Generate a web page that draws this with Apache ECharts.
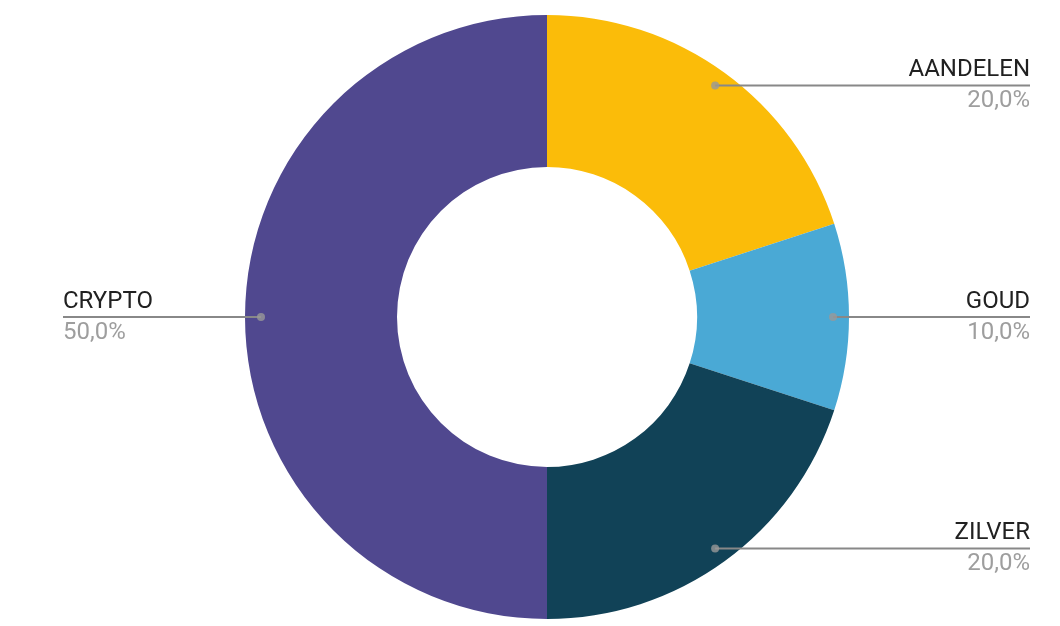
<!DOCTYPE html>
<html>
<head>
<meta charset="utf-8">
<script src="https://cdn.jsdelivr.net/npm/echarts@6/dist/echarts.min.js"></script>
<style>
  html, body { margin: 0; padding: 0; background: #fff; }
  #pie { width: 1060px; height: 626px; }
</style>
</head>
<body>
<div id="pie"></div>
<script>
// data
const names = ['AANDELEN', 'GOUD', 'ZILVER', 'CRYPTO']
const values = [20, 10, 20, 50]
const colors = ['#FBBC09', '#4AA9D5', '#114257', '#50488F']

const cx = 547, cy = 317
const rIn = 150, rOut = 302
const rDot = 286

let chart = echarts.init(document.getElementById('pie'))
const W = chart.getWidth()

const total = values.reduce((a, b) => a + b, 0)
// mid angle of each slice for the little dots
let acc = 0
const dots = values.map(v => {
  const mid = acc + v / 2
  acc += v
  return [rDot / rOut, mid]
})

chart.setOption({
  animation: false,
  polar: { center: [cx, cy], radius: rOut },
  angleAxis: { type: 'value', min: 0, max: total, startAngle: 90, clockwise: true, show: false },
  radiusAxis: { type: 'value', min: 0, max: 1, show: false },
  series: [
    {
      type: 'pie',
      center: [cx, cy],
      radius: [rIn, rOut],
      startAngle: 90,
      clockwise: true,
      silent: true,
      z: 1,
      data: names.map((n, i) => ({ name: n, value: values[i], itemStyle: { color: colors[i] } })),
      label: { show: false },
      labelLine: { show: false }
    },
    {
      // invisible pie only used to place labels + lines on top
      type: 'pie',
      center: [cx, cy],
      radius: [rDot - 1, rDot],
      startAngle: 90,
      clockwise: true,
      avoidLabelOverlap: false,
      silent: true,
      z: 5,
      itemStyle: { color: 'rgba(0,0,0,0)' },
      data: names.map((n, i) => ({ name: n, value: values[i] })),
      label: {
        show: true,
        position: 'outer',
        formatter: p => '{n|' + p.name + '}\n{p|' + p.percent.toFixed(1).replace('.', ',') + '%}',
        rich: {
          n: { fontFamily: 'Roboto', fontSize: 24, color: '#212121', lineHeight: 31 },
          p: { fontFamily: 'Roboto', fontSize: 24, color: '#9E9E9E', lineHeight: 31 }
        }
      },
      labelLine: {
        show: true,
        length: 0,
        length2: 0,
        lineStyle: { color: '#888', width: 2 }
      },
      labelLayout: function (params) {
        const p0 = params.labelLinePoints[0]
        const right = p0[0] > cx
        const ex = right ? W - 30 : 63
        return {
          x: ex,
          y: p0[1],
          align: right ? 'right' : 'left',
          verticalAlign: 'middle',
          labelLinePoints: [[p0[0], p0[1]], [ex, p0[1]], [ex, p0[1]]]
        }
      }
    },
    {
      type: 'scatter',
      coordinateSystem: 'polar',
      silent: true,
      symbol: 'circle',
      symbolSize: 8,
      itemStyle: { color: '#999' },
      data: dots,
      z: 10
    }
  ]
})
</script>
</body>
</html>
